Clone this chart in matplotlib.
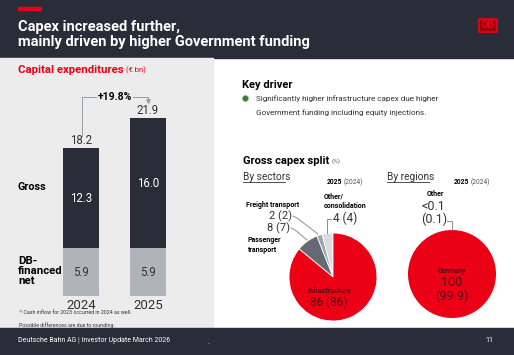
import matplotlib
matplotlib.use("Agg")
import matplotlib.pyplot as plt
from matplotlib.patches import Rectangle

plt.rcParams['font.family'] = ['Roboto', 'DejaVu Sans']

# ---- data ----
years = ["2024", "2025"]
db_net = [5.9, 5.9]
gov_part = [12.3, 16.0]
gross_total = [18.2, 21.9]
growth_label = "+19.8%"

sector_names = ["Other/\nconsolidation", "Freight transport", "Passenger\ntransport", "Infrastructure"]
sector_2025 = [4, 2, 8, 86]
sector_2024 = [4, 2, 7, 86]
region_names = ["Other", "Germany"]
region_2025 = [0.0, 100]
region_labels = ["<0.1", "100"]
region_2024_labels = ["(0.1)", "(99.9)"]

DARK = "#282d37"
RED = "#ec0016"
GRAYBAR = "#afb4bb"
PANEL = "#ececec"
W, H = 514, 355

fig = plt.figure(figsize=(W / 100, H / 100), dpi=100)
bg = fig.add_axes([0, 0, 1, 1], zorder=0)
bg.set_xlim(0, W)
bg.set_ylim(H, 0)
bg.axis("off")

ov = fig.add_axes([0, 0, 1, 1], zorder=10)
ov.set_xlim(0, W)
ov.set_ylim(H, 0)
ov.axis("off")
ov.patch.set_alpha(0)

def T(x, y, s, **kw):
    kw.setdefault("va", "center")
    return ov.text(x, y, s, **kw)

def after(t, s, dx=2, **kw):
    # place text right after another text object
    return ov.annotate(s, xy=(1, 0.5), xycoords=t, xytext=(dx, 0), textcoords="offset points",
                       va="center", ha="left", **kw)

# header / panels / footer
bg.add_patch(Rectangle((0, 0), W, 58, color=DARK, zorder=0))
bg.add_patch(Rectangle((18, 7), 23, 2.5, color=RED, zorder=1))
bg.add_patch(Rectangle((0, 58), 213, 270, color=PANEL, zorder=0))
bg.add_patch(Rectangle((0, 328), W, 27, color=DARK, zorder=0))
bg.add_patch(Rectangle((479, 19), 18, 13, facecolor="#a00010", edgecolor=RED, lw=1.2, zorder=1))
T(488, 25.5, "DB", color=RED, fontsize=7, fontweight="bold", ha="center")

T(18, 27, "Capex increased further,", color="white", fontsize=10.5, fontweight="bold")
T(18, 42, "mainly driven by higher Government funding", color="white", fontsize=10.5, fontweight="bold")

# left panel texts
cap = T(18, 70, "Capital expenditures", color=RED, fontsize=8.2, fontweight="bold")
after(cap, "(€ bn)", dx=2, color=RED, fontsize=5.5)
T(18, 187, "Gross", color="black", fontsize=7.8, fontweight="bold")
T(18, 271, "DB-\nfinanced\nnet", color="black", fontsize=8.2, fontweight="bold", linespacing=1.05)
T(19, 313, "¹⁾ Cash inflow for 2023 occurred in 2024 as well.", color="#333333", fontsize=3.8)
T(19, 325, "Possible differences are due to rounding.", color="#333333", fontsize=3.8)

# footer
T(18, 341, "Deutsche Bahn AG | Investor Update March 2026", color="white", fontsize=5)
T(208, 342, ".", color="white", fontsize=5)
T(489, 341, "11", color="white", fontsize=5, ha="center")

# ---- bar chart ----
scale = 8.12
ax = fig.add_axes([48 / W, (H - 296) / H, 134 / W, 200 / H], zorder=2)
ax.set_xlim(-0.49, 1.51)
ax.set_ylim(0, 200 / scale)
ax.axis("off")
xs = [0, 1]
ax.bar(xs, db_net, width=0.54, color=GRAYBAR, zorder=2)
ax.bar(xs, gov_part, bottom=db_net, width=0.54, color=DARK, zorder=2)
ax.axhline(0, color="#a0a5ab", lw=0.8, zorder=3)
for x, n, g, t, yr in zip(xs, db_net, gov_part, gross_total, years):
    ax.text(x, n / 2, f"{n:.1f}", ha="center", va="center", fontsize=8.3, color="#333333")
    ax.text(x, n + g / 2, f"{g:.1f}", ha="center", va="center", fontsize=8.3, color="white")
    ax.text(x, t + 0.15, f"{t:.1f}", ha="center", va="bottom", fontsize=8.3, color="#333333")
    ax.text(x, -0.35, yr, ha="center", va="top", fontsize=9.5, color="#333333")

# growth bracket (pixel coords)
lc = "#9a9fa6"
ov.plot([82, 82], [136, 96.5], color=lc, lw=0.7)
ov.plot([82, 148], [96.5, 96.5], color=lc, lw=0.7)
ov.plot([148, 148], [96.5, 100], color=lc, lw=0.7)
ov.plot([148], [101], marker="v", color=lc, markersize=2.5)
T(115, 97, growth_label, color="black", fontsize=7.5, fontweight="bold", ha="center",
  bbox=dict(facecolor=PANEL, edgecolor="none", pad=0.8))

# ---- right panel texts ----
T(242, 85, "Key driver", color="black", fontsize=8, fontweight="bold")
ov.plot([244.5], [98], marker="o", color="#3c7a3c", markersize=4.2, markeredgecolor="#7fb07f", markeredgewidth=0.5)
T(256, 98.5, "Significantly higher infrastructure capex due higher", color="#333333", fontsize=5.9)
T(256, 113, "Government funding including equity injections.", color="#333333", fontsize=5.9)

gs = T(243, 161, "Gross capex split", color="black", fontsize=8, fontweight="bold")
after(gs, "(%)", dx=1.5, color="#555555", fontsize=4.5)
T(243, 177, "By sectors", color="#333333", fontsize=7.3)
ov.plot([243, 285], [182, 182], color="#333333", lw=0.6)
T(387, 177, "By regions", color="#333333", fontsize=7.3)
ov.plot([387, 429], [182, 182], color="#333333", lw=0.6)
for x0 in (327, 454):
    y5 = T(x0, 182, "2025", color="black", fontsize=4.8, fontweight="bold")
    after(y5, "(2024)", dx=1.2, color="#555555", fontsize=4.8)

# ---- sector pie ----
pie_cols = ["#d7dce1", "#a0a5ab", "#646973", RED]
pax = fig.add_axes([289 / W, (H - 321) / H, 88 / W, 88 / H], zorder=2)
pax.pie(sector_2025, colors=pie_cols, startangle=90, counterclock=True,
        wedgeprops=dict(edgecolor="white", linewidth=0.6))
pax.set_xlim(-1, 1)
pax.set_ylim(-1, 1)

MAROON = "#5a0a14"
T(329, 291, sector_names[3], color=MAROON, fontsize=5, fontweight="bold", ha="center")
T(329, 302, f"{sector_2025[3]} ({sector_2024[3]})", color=MAROON, fontsize=8.5, ha="center")

T(246, 205, sector_names[1], color="black", fontsize=5, fontweight="bold")
T(292, 216.5, f"{sector_2025[1]} ({sector_2024[1]})", color="#333333", fontsize=8, ha="right")
T(290, 228.5, f"{sector_2025[2]} ({sector_2024[2]})", color="#333333", fontsize=8, ha="right")
T(248, 245, sector_names[2], color="black", fontsize=5, fontweight="bold", linespacing=1.3)
T(324, 201, sector_names[0], color="black", fontsize=5, fontweight="bold", linespacing=1.3)
T(333, 218.5, f"{sector_2025[0]} ({sector_2024[0]})", color="#333333", fontsize=8.5)

ov.plot([293, 297, 318], [216, 218, 234], color="#8a8f96", lw=0.7)
ov.plot([291, 295, 307], [228, 230, 240], color="#8a8f96", lw=0.7)
ov.plot([331, 327, 327], [219, 219, 233], color="#8a8f96", lw=0.7)

# ---- region pie ----
rax = fig.add_axes([408 / W, (H - 318) / H, 88 / W, 88 / H], zorder=2)
rax.pie([v if v > 0 else 0.0001 for v in region_2025], colors=["#d7dce1", RED], startangle=90)
rax.set_xlim(-1, 1)
rax.set_ylim(-1, 1)

T(452, 271, region_names[1], color=MAROON, fontsize=5, fontweight="bold", ha="center")
T(452, 283, region_labels[1], color=MAROON, fontsize=9, ha="center")
T(452, 296, region_2024_labels[1], color=MAROON, fontsize=9, ha="center")
T(427, 194, region_names[0], color="black", fontsize=5, fontweight="bold")
T(421, 206, region_labels[0], color="#333333", fontsize=9)
T(421, 219, region_2024_labels[0], color="#333333", fontsize=9)
ov.plot([447, 452, 452], [221, 221, 230], color="#8a8f96", lw=0.7)

fig.savefig("out.png", dpi=100)
